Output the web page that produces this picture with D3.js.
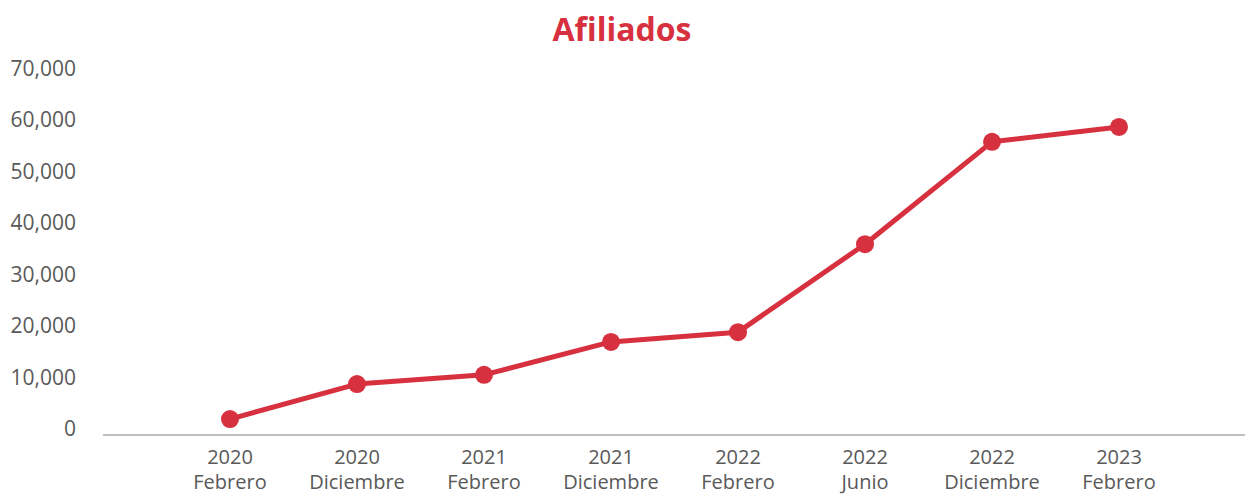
<!DOCTYPE html>
<html>
<head>
<meta charset="utf-8">
<script src="https://d3js.org/d3.v7.min.js"></script>
<style>
  body { margin: 0; background: #fff; }
  svg text { font-family: "Open Sans", sans-serif; }
</style>
</head>
<body>
<div id="chart"></div>
<script>
// data
var years = ["2020", "2020", "2021", "2021", "2022", "2022", "2022", "2023"];
var months = ["Febrero", "Diciembre", "Febrero", "Diciembre", "Febrero", "Junio", "Diciembre", "Febrero"];
var afiliados = [3100, 9900, 11700, 18100, 20000, 37100, 57000, 59900];
var yTicks = [0, 10000, 20000, 30000, 40000, 50000, 60000, 70000];

var width = 1245, height = 496;
var red = "#d7303f";

var svg = d3.select("#chart")
  .append("svg")
    .attr("width", width)
    .attr("height", height);

var data = afiliados.map(function(v, i) {
  return { key: i, year: years[i], month: months[i], value: v };
});

// x scale: points spaced evenly, with one empty step on each side
var x = d3.scalePoint()
  .domain(data.map(function(d) { return d.key; }))
  .range([103, 1246])
  .padding(1);

var y = d3.scaleLinear()
  .domain([0, 70000])
  .range([435, 75]);

// title
svg.append("text")
  .attr("x", 622)
  .attr("y", 28)
  .attr("text-anchor", "middle")
  .attr("dominant-baseline", "central")
  .style("font-size", "32px")
  .style("font-weight", "bold")
  .style("fill", red)
  .text("Afiliados");

// y labels (no gridlines in the original)
var fmt = d3.format(",");
svg.append("g")
  .selectAll("text")
  .data(yTicks)
  .enter()
  .append("text")
    .attr("x", 76)
    .attr("y", function(d) { return y(d) - 7; })
    .attr("text-anchor", "end")
    .attr("dominant-baseline", "central")
    .style("font-size", "21px")
    .style("fill", "#595959")
    .text(function(d) { return fmt(d); });

// x axis line
svg.append("line")
  .attr("x1", 103)
  .attr("x2", 1245)
  .attr("y1", y(0))
  .attr("y2", y(0))
  .attr("stroke", "#bfbfbf")
  .attr("stroke-width", 2);

// x labels, two lines each
var xl = svg.append("g")
  .selectAll("text")
  .data(data)
  .enter()
  .append("text")
    .attr("text-anchor", "middle")
    .style("font-size", "20px")
    .style("fill", "#595959");
xl.append("tspan")
  .attr("x", function(d) { return x(d.key); })
  .attr("y", 464)
  .text(function(d) { return d.year; });
xl.append("tspan")
  .attr("x", function(d) { return x(d.key); })
  .attr("y", 489)
  .text(function(d) { return d.month; });

// line
var line = d3.line()
  .x(function(d) { return x(d.key); })
  .y(function(d) { return y(d.value); });

svg.append("path")
  .datum(data)
  .attr("d", line)
  .attr("fill", "none")
  .attr("stroke", red)
  .attr("stroke-width", 5)
  .attr("stroke-linejoin", "round");

svg.append("g")
  .selectAll("circle")
  .data(data)
  .enter()
  .append("circle")
    .attr("cx", function(d) { return x(d.key); })
    .attr("cy", function(d) { return y(d.value); })
    .attr("r", 9)
    .attr("fill", red);
</script>
</body>
</html>
